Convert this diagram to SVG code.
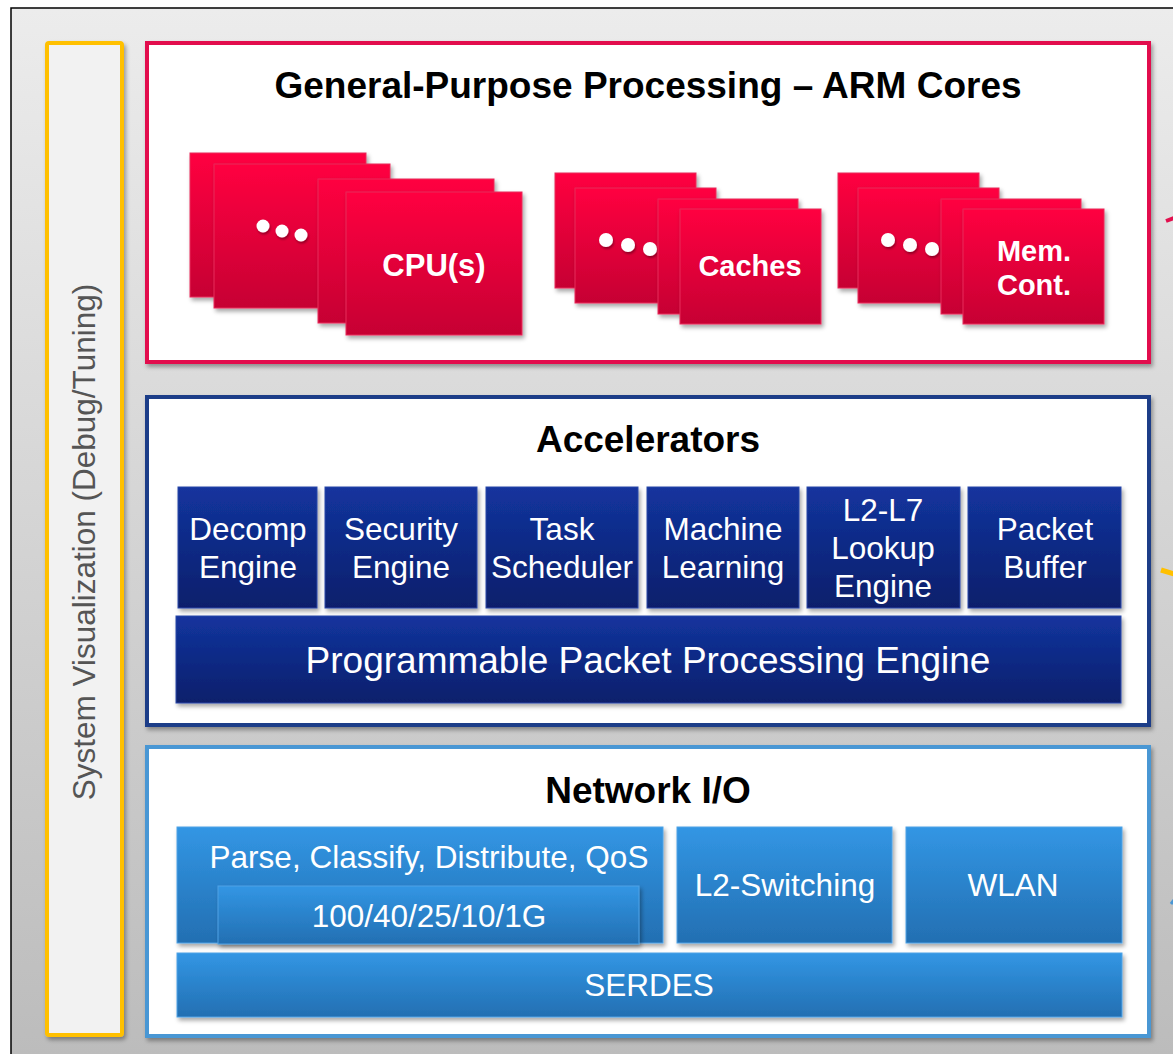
<svg xmlns="http://www.w3.org/2000/svg" width="1173" height="1054" viewBox="0 0 1173 1054">
<defs>
<linearGradient id="bg" gradientUnits="userSpaceOnUse" x1="0" y1="8" x2="0" y2="1054">
<stop offset="0" stop-color="#ECECEC"/><stop offset="1" stop-color="#BCBCBC"/>
</linearGradient>
<linearGradient id="red" x1="0" y1="0" x2="0" y2="1">
<stop offset="0" stop-color="#FF0040"/><stop offset="1" stop-color="#C60033"/>
</linearGradient>
<linearGradient id="dblue" x1="0" y1="0" x2="0" y2="1">
<stop offset="0" stop-color="#13349E"/><stop offset="1" stop-color="#0A1F6B"/>
</linearGradient>
<linearGradient id="lblue" x1="0" y1="0" x2="0" y2="1">
<stop offset="0" stop-color="#3296E4"/><stop offset="1" stop-color="#236FB2"/>
</linearGradient>
<filter id="sh" x="-10%" y="-10%" width="125%" height="130%">
<feDropShadow dx="2" dy="3" stdDeviation="2" flood-color="#000" flood-opacity="0.35"/>
</filter>
<filter id="shs" x="-50%" y="-50%" width="200%" height="200%">
<feDropShadow dx="1" dy="2" stdDeviation="1.2" flood-color="#000" flood-opacity="0.35"/>
</filter>
</defs>
<style>
.panel{fill:#FFFFFF;stroke-width:4;filter:url(#sh)}
.r{fill:url(#red);stroke:#E8285A;stroke-width:1;filter:url(#sh)}
.db{fill:url(#dblue);stroke:#2A48A8;stroke-width:1;filter:url(#sh)}
.lb{fill:url(#lblue);stroke:#4EA2E6;stroke-width:1;filter:url(#sh)}
.dot{fill:#FFFFFF;filter:url(#shs)}
.title{font-family:"Liberation Sans",Arial,sans-serif;font-weight:bold;font-size:37px;fill:#000;text-anchor:middle}
.rt{font-family:"Liberation Sans",Arial,sans-serif;font-weight:bold;fill:#FFF;text-anchor:middle}
.wt{font-family:"Liberation Sans",Arial,sans-serif;font-size:31.5px;fill:#FFF;text-anchor:middle}
.big{font-size:37px}
</style>
<rect x="0" y="0" width="1173" height="1054" fill="#FFFFFF"/>
<rect id="frame" x="11" y="8" width="1190" height="1070" fill="url(#bg)" stroke="#000" stroke-width="1.5"/>

<g id="sysvis">
<rect x="47" y="43" width="75" height="992" rx="2" fill="#F2F2F2" stroke="#FFC000" stroke-width="4" filter="url(#sh)"/>
<text transform="translate(95,542) rotate(-90)" font-family="Liberation Sans, Arial, sans-serif" font-size="31.5" fill="#555555" text-anchor="middle">System Visualization (Debug/Tuning)</text>
</g>

<g id="arm">
<rect class="panel" x="147" y="43" width="1002" height="319" stroke="#E2104E"/>
<text class="title" x="648" y="98">General-Purpose Processing – ARM Cores</text>
<g id="cpus">
<rect class="r" x="190" y="153" width="176" height="144"/>
<rect class="r" x="214" y="164" width="176" height="144"/>
<circle class="dot" cx="263" cy="226" r="6.5"/>
<circle class="dot" cx="282" cy="231" r="6.5"/>
<circle class="dot" cx="301" cy="235" r="6.5"/>
<rect class="r" x="318" y="179" width="176" height="144"/>
<rect class="r" x="346" y="192" width="176" height="143"/>
<text class="rt" x="434" y="276" font-size="31">CPU(s)</text>
</g>
<g id="caches">
<rect class="r" x="555" y="173" width="141" height="115"/>
<rect class="r" x="575" y="188" width="141" height="115"/>
<circle class="dot" cx="606" cy="240" r="7"/>
<circle class="dot" cx="628" cy="245" r="7"/>
<circle class="dot" cx="650" cy="249" r="7"/>
<rect class="r" x="658" y="199" width="140" height="115"/>
<rect class="r" x="680" y="209" width="141" height="115"/>
<text class="rt" x="750" y="276" font-size="29">Caches</text>
</g>
<g id="memcont">
<rect class="r" x="838" y="173" width="141" height="115"/>
<rect class="r" x="858" y="188" width="141" height="115"/>
<circle class="dot" cx="888" cy="240" r="7"/>
<circle class="dot" cx="910" cy="245" r="7"/>
<circle class="dot" cx="932" cy="249" r="7"/>
<rect class="r" x="941" y="199" width="140" height="115"/>
<rect class="r" x="963" y="209" width="141" height="115"/>
<text class="rt" x="1034" y="261" font-size="29">Mem.</text>
<text class="rt" x="1034" y="295" font-size="29">Cont.</text>
</g>
</g>

<g id="accel">
<rect class="panel" x="147" y="397" width="1002" height="328" stroke="#1F3C88"/>
<text class="title" x="648" y="452">Accelerators</text>
<g id="decomp"><rect class="db" x="178" y="487" width="139" height="121"/>
<text class="wt" x="248" y="540">Decomp</text><text class="wt" x="248" y="578">Engine</text></g>
<g id="security"><rect class="db" x="325" y="487" width="152" height="121"/>
<text class="wt" x="401" y="540">Security</text><text class="wt" x="401" y="578">Engine</text></g>
<g id="task"><rect class="db" x="486" y="487" width="152" height="121"/>
<text class="wt" x="562" y="540">Task</text><text class="wt" x="562" y="578">Scheduler</text></g>
<g id="ml"><rect class="db" x="647" y="487" width="152" height="121"/>
<text class="wt" x="723" y="540">Machine</text><text class="wt" x="723" y="578">Learning</text></g>
<g id="lookup"><rect class="db" x="807" y="487" width="153" height="121"/>
<text class="wt" x="883" y="521">L2-L7</text><text class="wt" x="883" y="559">Lookup</text><text class="wt" x="883" y="597">Engine</text></g>
<g id="pktbuf"><rect class="db" x="968" y="487" width="153" height="121"/>
<text class="wt" x="1045" y="540">Packet</text><text class="wt" x="1045" y="578">Buffer</text></g>
<g id="ppe"><rect class="db" x="176" y="616" width="945" height="87"/>
<text class="wt big" x="648" y="673">Programmable Packet Processing Engine</text></g>
</g>

<g id="netio">
<rect class="panel" x="147" y="747" width="1002" height="289" stroke="#4A97D4"/>
<text class="title" x="648" y="803">Network I/O</text>
<g id="parse"><rect class="lb" x="177" y="827" width="486" height="116"/>
<text class="wt" x="429" y="868">Parse, Classify, Distribute, QoS</text></g>
<g id="speeds"><rect class="lb" x="218" y="886" width="421" height="58"/>
<text class="wt" x="429" y="927">100/40/25/10/1G</text></g>
<g id="l2sw"><rect class="lb" x="677" y="827" width="215" height="116"/>
<text class="wt" x="785" y="896">L2-Switching</text></g>
<g id="wlan"><rect class="lb" x="906" y="827" width="216" height="116"/>
<text class="wt" x="1013" y="896">WLAN</text></g>
<g id="serdes"><rect class="lb" x="177" y="953" width="945" height="64"/>
<text class="wt" x="649" y="996">SERDES</text></g>
</g>

<g id="connectors" fill="none" stroke-linecap="butt">
<line x1="1166" y1="221" x2="1174" y2="218" stroke="#E2104E" stroke-width="4"/>
<line x1="1161" y1="570" x2="1174" y2="574" stroke="#FFC000" stroke-width="5"/>
<line x1="1171" y1="904" x2="1174" y2="900" stroke="#4A97D4" stroke-width="3"/>
</g>
</svg>
